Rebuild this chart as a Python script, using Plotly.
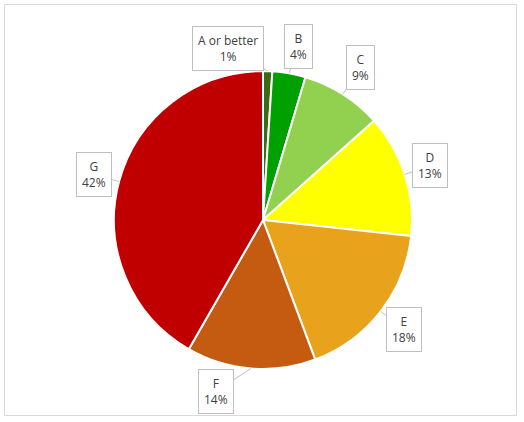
import math
import plotly.graph_objects as go

# energy rating bands, share of total (%)
bandas = ["A or better", "B", "C", "D", "E", "F", "G"]
valores = [1.0, 3.6, 8.8, 13.3, 17.6, 14.0, 41.7]
cores = ["#3A6B14", "#00A000", "#92D050", "#FFFF00", "#E8A21C", "#C55A11", "#C00000"]

W, H = 524, 422
CX, CY, R = 263, 220, 149

# callout box offsets from the slice edge (pixels)
offsets = [(-40, -23), (9, -27), (18, -27), (25, -9), (23, 18), (-35, 23), (-25, -7)]

fig = go.Figure(
    go.Pie(
        labels=bandas,
        values=valores,
        sort=False,
        direction="clockwise",
        rotation=0,
        marker=dict(colors=cores, line=dict(color="white", width=2)),
        textinfo="none",
        hoverinfo="label+percent",
        domain=dict(x=[(CX - R) / W, (CX + R) / W],
                    y=[1 - (CY + R) / H, 1 - (CY - R) / H]),
    )
)

total = sum(valores)
acum = 0
anotacoes = []
for nome, v, (ax, ay) in zip(bandas, valores, offsets):
    meio = (acum + v / 2) / total * 2 * math.pi
    acum += v
    px_x = CX + R * math.sin(meio)
    px_y = CY - R * math.cos(meio)
    anotacoes.append(dict(
        x=px_x / W, y=1 - px_y / H, xref="paper", yref="paper",
        text=f"{nome}<br>{round(v / total * 100)}%",
        showarrow=True, arrowhead=0, arrowwidth=1, arrowcolor="#BFBFBF",
        ax=ax, ay=ay,
        bgcolor="white", bordercolor="#BFBFBF", borderwidth=1, borderpad=5,
        font=dict(family="Open Sans", size=12, color="#404040"),
        align="center",
    ))

fig.update_layout(
    width=W, height=H,
    margin=dict(l=0, r=0, t=0, b=0),
    showlegend=False,
    paper_bgcolor="white",
    plot_bgcolor="white",
    annotations=anotacoes,
    shapes=[dict(type="rect", xref="paper", yref="paper",
                 x0=4.5 / W, x1=516.5 / W, y0=1 - 415.5 / H, y1=1 - 4.5 / H,
                 line=dict(color="#D9D9D9", width=1))],
)

# tira a margem padrão do body para o gráfico ocupar a janela toda
fig.write_html("out.html", config={"displayModeBar": False},
               post_script="document.body.style.margin='0';")
